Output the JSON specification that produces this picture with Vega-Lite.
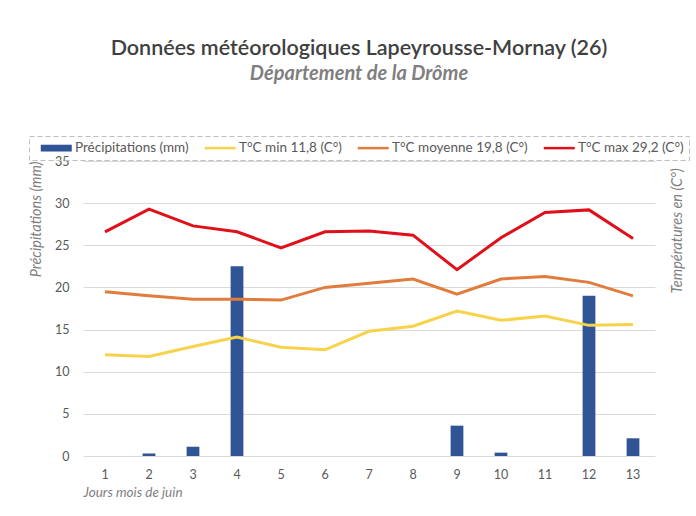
{
  "$schema": "https://vega.github.io/schema/vega-lite/v6.json",
  "width": 572,
  "height": 295,
  "autosize": "none",
  "padding": {"left": 83, "top": 161, "right": 40, "bottom": 60},
  "background": "white",
  "config": {
    "font": "Lato",
    "view": {"stroke": null},
    "axis": {"labelColor": "#595959", "labelFontSize": 12.5, "titleColor": "#7f7f7f", "titleFontStyle": "italic", "titleFontWeight": "normal", "titleFontSize": 14.5}
  },
  "title": {
    "text": "Données météorologiques Lapeyrousse-Mornay (26)",
    "subtitle": "Département de la Drôme",
    "frame": "bounds",
    "fontSize": 21.5,
    "fontWeight": 600,
    "color": "#404040",
    "subtitleFontSize": 20,
    "subtitleFontStyle": "italic",
    "subtitleFontWeight": "bold",
    "subtitleColor": "#7f7f7f",
    "subtitlePadding": 4,
    "anchor": "middle",
    "offset": 52
  },
  "data": {
    "values": [
      {"day": 1, "series": "Précipitations (mm)", "value": 0},
      {"day": 2, "series": "Précipitations (mm)", "value": 0.3},
      {"day": 3, "series": "Précipitations (mm)", "value": 1.1},
      {"day": 4, "series": "Précipitations (mm)", "value": 22.5},
      {"day": 5, "series": "Précipitations (mm)", "value": 0},
      {"day": 6, "series": "Précipitations (mm)", "value": 0},
      {"day": 7, "series": "Précipitations (mm)", "value": 0},
      {"day": 8, "series": "Précipitations (mm)", "value": 0},
      {"day": 9, "series": "Précipitations (mm)", "value": 3.6},
      {"day": 10, "series": "Précipitations (mm)", "value": 0.4},
      {"day": 11, "series": "Précipitations (mm)", "value": 0},
      {"day": 12, "series": "Précipitations (mm)", "value": 19.0},
      {"day": 13, "series": "Précipitations (mm)", "value": 2.1},
      {"day": 1, "series": "T°C min 11,8 (C°)", "value": 12.0},
      {"day": 2, "series": "T°C min 11,8 (C°)", "value": 11.8},
      {"day": 3, "series": "T°C min 11,8 (C°)", "value": 13.0},
      {"day": 4, "series": "T°C min 11,8 (C°)", "value": 14.1},
      {"day": 5, "series": "T°C min 11,8 (C°)", "value": 12.9},
      {"day": 6, "series": "T°C min 11,8 (C°)", "value": 12.6},
      {"day": 7, "series": "T°C min 11,8 (C°)", "value": 14.8},
      {"day": 8, "series": "T°C min 11,8 (C°)", "value": 15.4},
      {"day": 9, "series": "T°C min 11,8 (C°)", "value": 17.2},
      {"day": 10, "series": "T°C min 11,8 (C°)", "value": 16.1},
      {"day": 11, "series": "T°C min 11,8 (C°)", "value": 16.6},
      {"day": 12, "series": "T°C min 11,8 (C°)", "value": 15.5},
      {"day": 13, "series": "T°C min 11,8 (C°)", "value": 15.6},
      {"day": 1, "series": "T°C moyenne 19,8 (C°)", "value": 19.5},
      {"day": 2, "series": "T°C moyenne 19,8 (C°)", "value": 19.0},
      {"day": 3, "series": "T°C moyenne 19,8 (C°)", "value": 18.6},
      {"day": 4, "series": "T°C moyenne 19,8 (C°)", "value": 18.6},
      {"day": 5, "series": "T°C moyenne 19,8 (C°)", "value": 18.5},
      {"day": 6, "series": "T°C moyenne 19,8 (C°)", "value": 20.0},
      {"day": 7, "series": "T°C moyenne 19,8 (C°)", "value": 20.5},
      {"day": 8, "series": "T°C moyenne 19,8 (C°)", "value": 21.0},
      {"day": 9, "series": "T°C moyenne 19,8 (C°)", "value": 19.2},
      {"day": 10, "series": "T°C moyenne 19,8 (C°)", "value": 21.0},
      {"day": 11, "series": "T°C moyenne 19,8 (C°)", "value": 21.3},
      {"day": 12, "series": "T°C moyenne 19,8 (C°)", "value": 20.6},
      {"day": 13, "series": "T°C moyenne 19,8 (C°)", "value": 19.0},
      {"day": 1, "series": "T°C max 29,2 (C°)", "value": 26.6},
      {"day": 2, "series": "T°C max 29,2 (C°)", "value": 29.3},
      {"day": 3, "series": "T°C max 29,2 (C°)", "value": 27.3},
      {"day": 4, "series": "T°C max 29,2 (C°)", "value": 26.6},
      {"day": 5, "series": "T°C max 29,2 (C°)", "value": 24.7},
      {"day": 6, "series": "T°C max 29,2 (C°)", "value": 26.6},
      {"day": 7, "series": "T°C max 29,2 (C°)", "value": 26.7},
      {"day": 8, "series": "T°C max 29,2 (C°)", "value": 26.2},
      {"day": 9, "series": "T°C max 29,2 (C°)", "value": 22.1},
      {"day": 10, "series": "T°C max 29,2 (C°)", "value": 25.9},
      {"day": 11, "series": "T°C max 29,2 (C°)", "value": 28.9},
      {"day": 12, "series": "T°C max 29,2 (C°)", "value": 29.2},
      {"day": 13, "series": "T°C max 29,2 (C°)", "value": 25.8}
    ]
  },
  "encoding": {
    "x": {
      "field": "day", "type": "ordinal", "sort": "ascending",
      "scale": {"paddingInner": 0, "paddingOuter": 0},
      "axis": {"title": "Jours mois de juin", "titleAnchor": "start", "titleAlign": "left", "labelAngle": 0, "labelPadding": 12, "ticks": false, "domain": false, "titlePadding": 5, "titleFontSize": 13.5}
    }
  },
  "layer": [
    {
      "transform": [{"filter": "datum.series === 'Précipitations (mm)'"}],
      "mark": {"type": "bar", "width": {"band": 0.29}},
      "encoding": {
        "y": {
          "field": "value", "type": "quantitative",
          "scale": {"domain": [0, 35], "nice": false},
          "axis": {"title": "Précipitations (mm)", "values": [0, 5, 10, 15, 20, 25, 30, 35], "titleAnchor": "end", "gridColor": "#d9d9d9", "domain": false, "ticks": false, "labelPadding": 14, "titlePadding": 11}
        },
        "color": {
          "field": "series", "type": "nominal",
          "scale": {
            "domain": ["Précipitations (mm)", "T°C min 11,8 (C°)", "T°C moyenne 19,8 (C°)", "T°C max 29,2 (C°)"],
            "range": ["#2f5597", "#f6d34a", "#e07c3c", "#e0101a"]
          },
          "legend": {
            "orient": "none", "legendX": -54, "legendY": -25, "direction": "horizontal", "title": null,
            "symbolType": "square", "symbolSize": 100,
            "labelFontSize": 13.5, "labelColor": "#595959", "labelOffset": 27.5, "columnPadding": 9,
            "strokeColor": "#bfbfbf", "padding": 5,
            "encode": {
              "legend": {"update": {"strokeDash": {"value": [5, 3]}}},
              "symbols": {"update": {
                "shape": {"signal": "datum.value === 'Précipitations (mm)' ? 'M0,-0.68H6.2V0.68H0Z' : 'M0,-0.25H6.2V0.25H0Z'"},
                "fill": {"scale": "color", "field": "value"},
                "strokeWidth": {"value": 0}
              }}
            }
          }
        }
      }
    },
    {
      "transform": [{"filter": "datum.series !== 'Précipitations (mm)'"}],
      "mark": {"type": "line", "strokeWidth": 3},
      "encoding": {
        "y": {
          "field": "value", "type": "quantitative",
          "scale": {"domain": [0, 35], "nice": false},
          "axis": {"orient": "right", "title": "Températures en  (C°)", "titleAngle": 270, "titleAlign": "left", "titleBaseline": "middle", "titleX": 22, "titleY": 132, "labels": false, "ticks": false, "domain": false, "grid": false}
        },
        "color": {"field": "series", "type": "nominal"}
      }
    }
  ],
  "resolve": {"scale": {"y": "independent"}}
}
